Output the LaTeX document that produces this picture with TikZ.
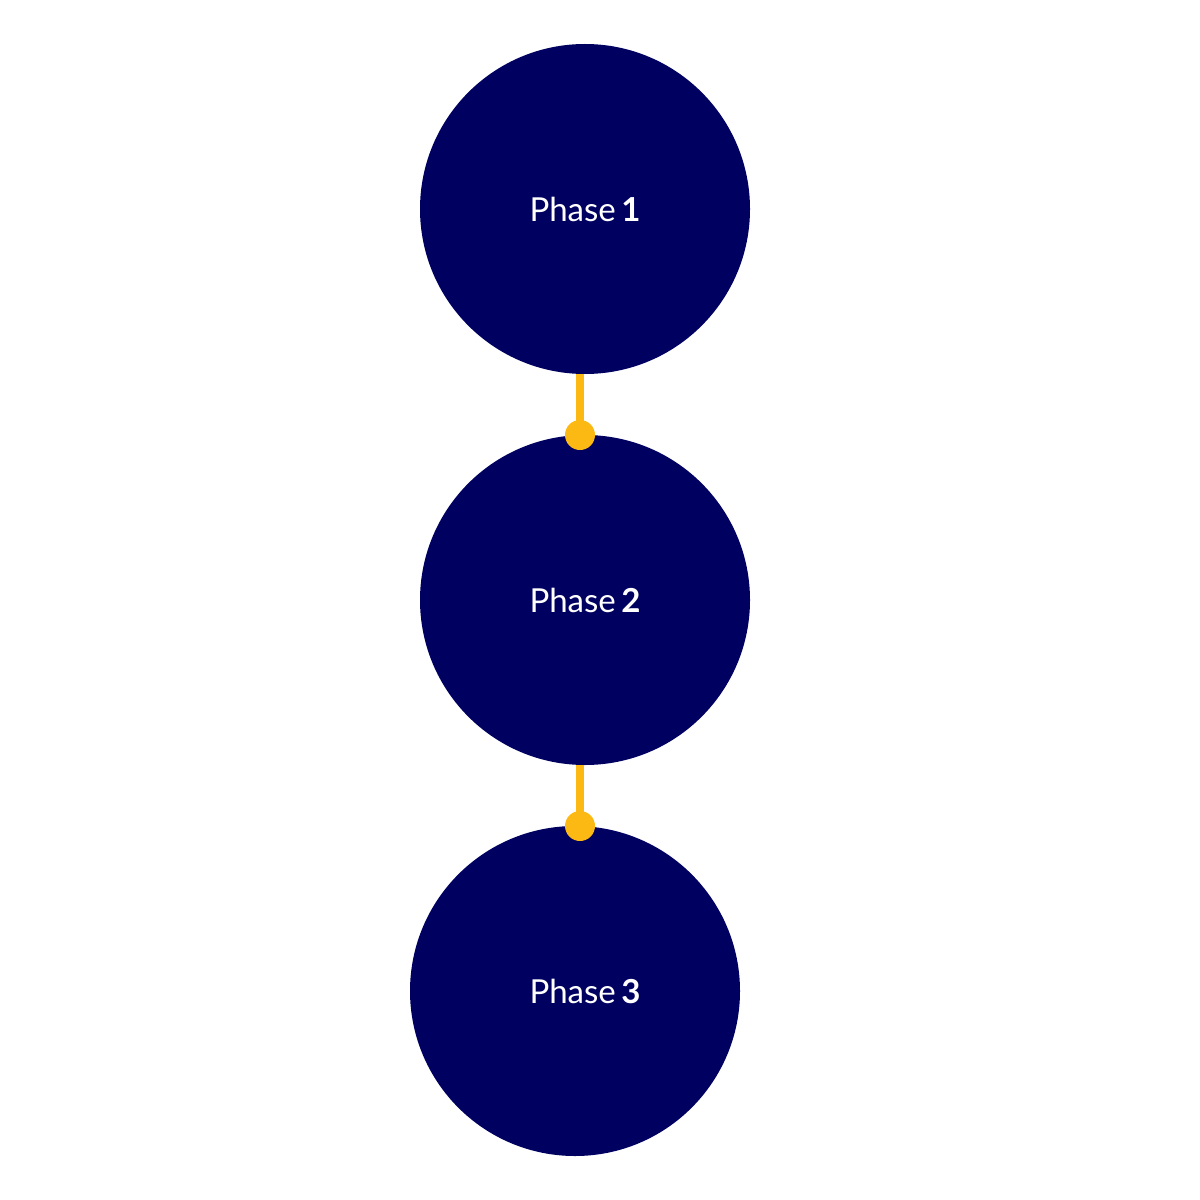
\documentclass[tikz,border=0pt]{standalone}
\usepackage{fontspec}
\setmainfont{Lato}
\usetikzlibrary{positioning}
\definecolor{phasenavy}{RGB}{0,0,96}
\definecolor{phaseyellow}{RGB}{253,185,19}
\tikzset{
  phase/.style={circle, fill=phasenavy, minimum size=8.25cm, inner sep=0pt,
    text=white, font=\fontsize{23.5}{28}\selectfont}, % the three phase circles
  phasetext/.style={text=white, font=\fontsize{23.5}{28}\selectfont}, % shifted label
  joint/.style={circle, fill=phaseyellow, minimum size=0.75cm, inner sep=0pt}, % yellow dots
  link/.style={draw=phaseyellow, line width=0.18cm}, % the connecting lines
}

\begin{document}
\begin{tikzpicture}
  \useasboundingbox (0,0) rectangle (30,-30);

  \node[phase] (p1) at (14.625,-5.225) {Phase\,\textbf{1}};
  \node[phase] (p2) at (14.625,-15) {Phase\,\textbf{2}};
  \node[phase] (p3) at (14.375,-24.775) {};
  \node[phasetext] (t3) at (14.625,-24.775) {Phase\,\textbf{3}};

  \coordinate (j1) at (14.5,-10.875);
  \coordinate (j2) at (14.5,-20.65);

  \draw[link] (j1 |- p1.south) -- (j1);
  \draw[link] (j2 |- p2.south) -- (j2);

  \node[joint] (d1) at (j1) {};
  \node[joint] (d2) at (j2) {};
\end{tikzpicture}
\end{document}
